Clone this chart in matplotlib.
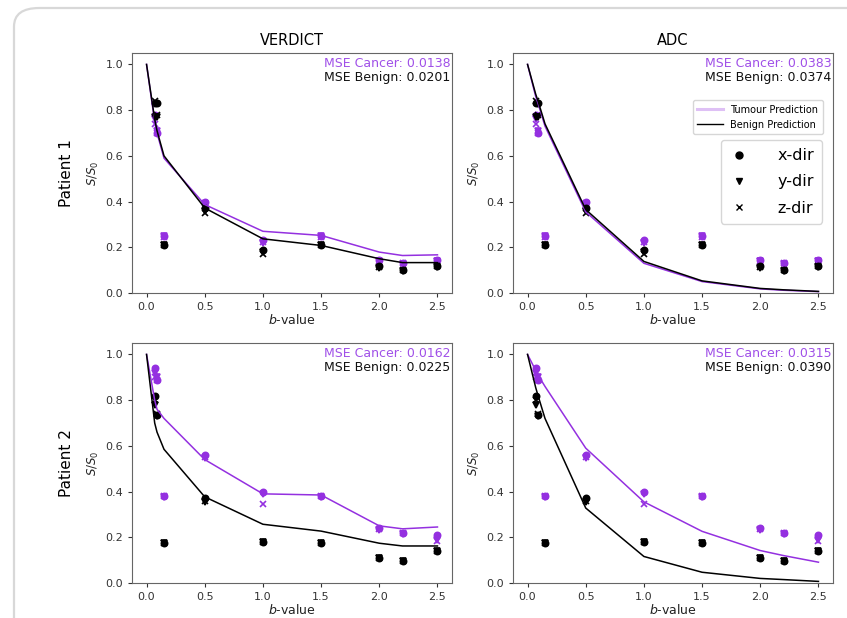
import matplotlib
matplotlib.use("Agg")
import matplotlib.pyplot as plt
from matplotlib.patches import FancyBboxPatch
from matplotlib.lines import Line2D

PURPLE = "#9430e0"
TEXT_PURPLE = "#a050e8"

b_meas = [0.07, 0.09, 0.15, 0.5, 1.0, 1.5, 2.0, 2.2, 2.5]
b_pred = [0.0, 0.07, 0.09, 0.15, 0.5, 1.0, 1.5, 2.0, 2.2, 2.5]

# Patient 1 measurements
p1_benign_x = [0.83, 0.83, 0.21, 0.37, 0.19, 0.21, 0.12, 0.10, 0.12]
p1_benign_y = [0.77, 0.77, 0.21, 0.36, 0.18, 0.21, 0.11, 0.095, 0.115]
p1_benign_z = [0.84, 0.78, 0.21, 0.35, 0.17, 0.21, 0.115, 0.10, 0.12]
p1_cancer_x = [0.78, 0.70, 0.25, 0.40, 0.23, 0.25, 0.145, 0.13, 0.145]
p1_cancer_y = [0.76, 0.71, 0.25, 0.39, 0.22, 0.25, 0.14, 0.125, 0.14]
p1_cancer_z = [0.74, 0.70, 0.245, 0.395, 0.225, 0.245, 0.14, 0.13, 0.14]

# Patient 2 measurements
p2_benign_x = [0.82, 0.735, 0.175, 0.37, 0.18, 0.175, 0.11, 0.095, 0.14]
p2_benign_y = [0.78, 0.73, 0.175, 0.355, 0.18, 0.175, 0.11, 0.095, 0.14]
p2_benign_z = [0.80, 0.74, 0.175, 0.36, 0.18, 0.175, 0.11, 0.095, 0.14]
p2_cancer_x = [0.94, 0.89, 0.38, 0.56, 0.40, 0.38, 0.24, 0.22, 0.21]
p2_cancer_y = [0.92, 0.90, 0.375, 0.545, 0.39, 0.375, 0.23, 0.215, 0.19]
p2_cancer_z = [0.90, 0.89, 0.38, 0.55, 0.345, 0.38, 0.235, 0.22, 0.185]

# Predictions
p1_verdict_cancer = [1.0, 0.75, 0.70, 0.59, 0.387, 0.27, 0.252, 0.179, 0.164, 0.167]
p1_verdict_benign = [1.0, 0.76, 0.71, 0.60, 0.372, 0.237, 0.208, 0.15, 0.133, 0.133]
p1_adc_cancer = [1.0, 0.86, 0.83, 0.73, 0.355, 0.13, 0.05, 0.018, 0.012, 0.006]
p1_adc_benign = [1.0, 0.87, 0.84, 0.74, 0.365, 0.138, 0.053, 0.02, 0.014, 0.007]
p2_verdict_cancer = [1.0, 0.80, 0.76, 0.72, 0.54, 0.39, 0.385, 0.25, 0.237, 0.245]
p2_verdict_benign = [1.0, 0.70, 0.66, 0.585, 0.377, 0.257, 0.227, 0.174, 0.162, 0.162]
p2_adc_cancer = [1.0, 0.93, 0.91, 0.86, 0.59, 0.355, 0.226, 0.142, 0.12, 0.091]
p2_adc_benign = [1.0, 0.855, 0.82, 0.72, 0.328, 0.116, 0.047, 0.02, 0.015, 0.007]

mse = {
    (0, 0): ("0.0138", "0.0201"),
    (0, 1): ("0.0383", "0.0374"),
    (1, 0): ("0.0162", "0.0225"),
    (1, 1): ("0.0315", "0.0390"),
}

col_titles = ["VERDICT", "ADC"]
row_labels = ["Patient 1", "Patient 2"]

meas = [
    (p1_cancer_x, p1_cancer_y, p1_cancer_z, p1_benign_x, p1_benign_y, p1_benign_z),
    (p2_cancer_x, p2_cancer_y, p2_cancer_z, p2_benign_x, p2_benign_y, p2_benign_z),
]
preds = {
    (0, 0): (p1_verdict_cancer, p1_verdict_benign),
    (0, 1): (p1_adc_cancer, p1_adc_benign),
    (1, 0): (p2_verdict_cancer, p2_verdict_benign),
    (1, 1): (p2_adc_cancer, p2_adc_benign),
}

fig = plt.figure(figsize=(8.47, 6.18), dpi=100)

# card frame
card = FancyBboxPatch((14 / 847, -0.2), 1.2, 1 - 8 / 618 + 0.2,
                      boxstyle="round,pad=0,rounding_size=0.03",
                      transform=fig.transFigure, facecolor="white",
                      edgecolor="#d8d8d8", linewidth=1.6, zorder=-10)
fig.patches.append(card)

lefts = [132 / 847, 513 / 847]
bottoms = [1 - 293 / 618, 1 - 583 / 618]
w = 320 / 847
h = 240 / 618

markers = ["o", "v", "x"]

for r in range(2):
    for c in range(2):
        ax = fig.add_axes([lefts[c], bottoms[r], w, h])
        cx, cy, cz, bx, by, bz = meas[r]
        for vals, m in zip((cx, cy, cz), markers):
            ax.plot(b_meas, vals, linestyle="none", marker=m, color=PURPLE,
                    markersize=4.5, markeredgewidth=1.2)
        for vals, m in zip((bx, by, bz), markers):
            ax.plot(b_meas, vals, linestyle="none", marker=m, color="black",
                    markersize=4.5, markeredgewidth=1.2)
        pc, pb = preds[(r, c)]
        ax.plot(b_pred, pc, color=PURPLE, linewidth=1.1)
        ax.plot(b_pred, pb, color="black", linewidth=1.1)
        ax.set_xlim(-0.125, 2.625)
        ax.set_ylim(0, 1.05)
        ax.set_xticks([0.0, 0.5, 1.0, 1.5, 2.0, 2.5])
        ax.set_yticks([0.0, 0.2, 0.4, 0.6, 0.8, 1.0])
        ax.tick_params(labelsize=8, colors="#333333", length=3)
        for s in ax.spines.values():
            s.set_color("#666666")
        ax.set_xlabel("$b$-value", fontsize=9, labelpad=1, color="#222222")
        ax.set_ylabel("$S/S_0$", fontsize=8.5, labelpad=3, color="#222222")
        ax.text(0.995, 0.985, f"MSE Cancer: {mse[(r, c)][0]}", transform=ax.transAxes,
                ha="right", va="top", fontsize=9, color=TEXT_PURPLE)
        ax.text(0.995, 0.925, f"MSE Benign: {mse[(r, c)][1]}", transform=ax.transAxes,
                ha="right", va="top", fontsize=9, color="#111111")
        if r == 0:
            ax.set_title(col_titles[c], fontsize=10.5, pad=6)
        if c == 0:
            ax.text(-0.205, 0.5, row_labels[r], transform=ax.transAxes, rotation=90,
                    ha="center", va="center", fontsize=11)
        if r == 0 and c == 1:
            h1 = [Line2D([], [], color=PURPLE, alpha=0.3, linewidth=2.2),
                  Line2D([], [], color="black", linewidth=1.0)]
            leg1 = ax.legend(h1, ["Tumour Prediction", "Benign Prediction"],
                             loc="upper right", bbox_to_anchor=(0.985, 0.825),
                             fontsize=7, framealpha=0.8, borderpad=0.5,
                             handlelength=2.6)
            ax.add_artist(leg1)
            h2 = [Line2D([], [], color="black", marker=m, linestyle="none",
                         markersize=5) for m in markers]
            ax.legend(h2, ["x-dir", "y-dir", "z-dir"], loc="upper right",
                      bbox_to_anchor=(0.99, 0.67), fontsize=11.5,
                      framealpha=0.8, handlelength=1.2, handletextpad=1.8,
                      labelspacing=0.7, borderpad=0.5)

fig.savefig("out.png", dpi=100, facecolor="white")
